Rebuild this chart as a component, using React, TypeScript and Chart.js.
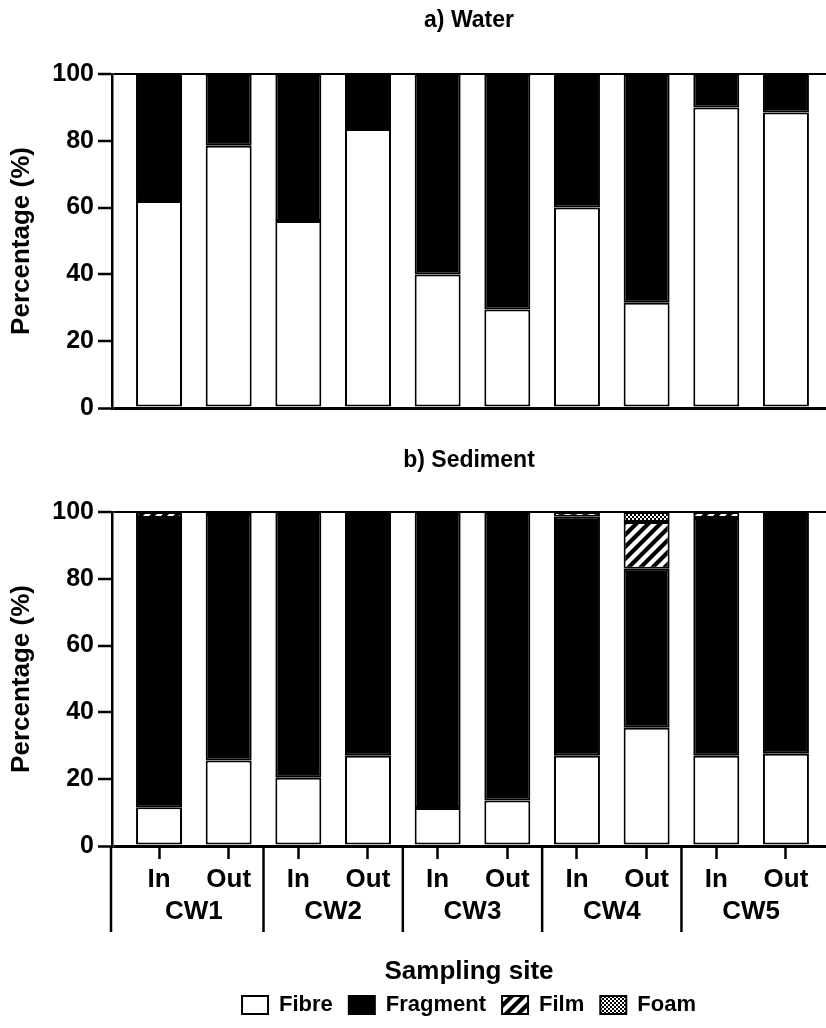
import React, { useEffect, useRef } from 'react';
import { Chart, registerables } from 'chart.js';

Chart.register(...registerables);

// ---- data ----
const sites = ['CW1', 'CW2', 'CW3', 'CW4', 'CW5'];
const positions = ['In', 'Out', 'In', 'Out', 'In', 'Out', 'In', 'Out', 'In', 'Out'];
const barIndex = [1, 2, 3, 4, 5, 6, 7, 8, 9, 10];
const yTicks = [0, 20, 40, 60, 80, 100];
const typeNames = ['Fibre', 'Fragment', 'Film', 'Foam'];

const waterFibre = [62, 78.5, 56, 83.5, 40, 29.5, 60, 31.5, 90, 88.5];
const waterFragment = [38, 21.5, 44, 16.5, 60, 70.5, 40, 68.5, 10, 11.5];
const waterFilm = [0, 0, 0, 0, 0, 0, 0, 0, 0, 0];
const waterFoam = [0, 0, 0, 0, 0, 0, 0, 0, 0, 0];

const sedFibre = [11.6, 25.6, 20.4, 27, 11.4, 13.6, 27, 35.4, 27, 27.6];
const sedFragment = [86.6, 73.8, 79.6, 73, 88.6, 86.4, 71.6, 47.6, 71.2, 72.4];
const sedFilm = [1.8, 0.6, 0, 0, 0, 0, 1.4, 14, 1.8, 0];
const sedFoam = [0, 0, 0, 0, 0, 0, 0, 3, 0, 0];

const FONT = "'Liberation Sans', Arial, Helvetica, sans-serif";

function filmPattern(): CanvasPattern | string {
  const c = document.createElement('canvas');
  c.width = 12;
  c.height = 12;
  const g = c.getContext('2d');
  if (!g) return '#888';
  g.fillStyle = '#fff';
  g.fillRect(0, 0, 12, 12);
  g.strokeStyle = '#000';
  g.lineWidth = 4.2;
  g.beginPath();
  g.moveTo(-6, 6); g.lineTo(6, -6);
  g.moveTo(-1, 13); g.lineTo(13, -1);
  g.moveTo(6, 18); g.lineTo(18, 6);
  g.stroke();
  return g.createPattern(c, 'repeat') || '#888';
}

function foamPattern(): CanvasPattern | string {
  const c = document.createElement('canvas');
  c.width = 4;
  c.height = 4;
  const g = c.getContext('2d');
  if (!g) return '#888';
  g.fillStyle = '#fff';
  g.fillRect(0, 0, 4, 4);
  g.fillStyle = '#000';
  g.fillRect(0, 0, 2, 2);
  g.fillRect(2, 2, 2, 2);
  return g.createPattern(c, 'repeat') || '#888';
}

function buildDatasets(series: number[][]) {
  const fills = ['#ffffff', '#000000', filmPattern(), foamPattern()];
  return series.map((vals, k) => ({
    label: typeNames[k],
    data: vals.map((v, i) => ({ x: barIndex[i], y: v })),
    backgroundColor: fills[k],
    borderColor: '#000',
    borderWidth: 2,
    borderSkipped: false,
    barPercentage: 0.66,
    categoryPercentage: 1,
    stack: 's',
  }));
}

const groupPlugin = {
  id: 'groupAxis',
  afterDraw(chart: any) {
    const x = chart.scales.x;
    const area = chart.chartArea;
    const ctx = chart.ctx;
    ctx.save();
    ctx.strokeStyle = '#000';
    ctx.lineWidth = 2.5;
    ctx.fillStyle = '#000';
    ctx.font = `bold 26px ${FONT}`;
    ctx.textAlign = 'center';
    ctx.textBaseline = 'middle';
    sites.forEach((s, g) => {
      const a = barIndex[2 * g];
      const b = barIndex[2 * g + 1];
      const leftVal = g === 0 ? x.min : (barIndex[2 * g - 1] + a) / 2;
      const px = x.getPixelForValue(leftVal) + (g === 0 ? -1 : 0);
      ctx.beginPath();
      ctx.moveTo(px, area.bottom);
      ctx.lineTo(px, area.bottom + 86);
      ctx.stroke();
      ctx.fillText(s, x.getPixelForValue((a + b) / 2), area.bottom + 66);
    });
    ctx.restore();
  },
};

function makeOptions(title: string, isB: boolean): any {
  return {
    responsive: false,
    animation: false,
    events: [],
    devicePixelRatio: 1,
    layout: { padding: { top: 0, left: 0, right: 0, bottom: isB ? 2 : 32 } },
    plugins: {
      tooltip: { enabled: false },
      title: {
        display: true,
        text: title,
        fullSize: false,
        color: '#000',
        font: { family: FONT, size: 23, weight: 'bold', lineHeight: 1.2 },
        padding: { top: 7, bottom: isB ? 37.4 : 39.4 },
      },
      legend: isB
        ? {
            display: true,
            position: 'bottom',
            fullSize: false,
            align: 'center',
            labels: {
              color: '#000',
              boxWidth: 26,
              boxHeight: 18,
              padding: 16,
              font: { family: FONT, size: 22, weight: 'bold' },
            },
          }
        : { display: false },
    },
    scales: {
      x: {
        type: 'linear',
        min: 0.325,
        max: 10.575,
        offset: false,
        stacked: true,
        display: isB,
        afterBuildTicks: (s: any) => {
          s.ticks = barIndex.map((v) => ({ value: v }));
        },
        afterFit: (s: any) => {
          if (isB) s.height = 132;
        },
        grid: {
          offset: false,
          drawOnChartArea: false,
          drawTicks: true,
          tickLength: 13,
          tickColor: '#000',
          tickWidth: 2.5,
        },
        border: { display: false },
        ticks: {
          autoSkip: false,
          maxRotation: 0,
          padding: 5,
          color: '#000',
          font: { family: FONT, size: 26, weight: 'bold', lineHeight: 1.2 },
          callback: (_v: any, i: number) => positions[i],
        },
        title: {
          display: isB,
          text: 'Sampling site',
          color: '#000',
          font: { family: FONT, size: 26, weight: 'bold', lineHeight: 1 },
          padding: { top: 0, bottom: -7 },
        },
      },
      y: {
        min: 0,
        max: 100,
        stacked: true,
        z: 1,
        afterBuildTicks: (s: any) => {
          s.ticks = yTicks.map((v) => ({ value: v }));
        },
        afterFit: (s: any) => {
          s.width = 112;
        },
        grid: {
          color: (c: any) => (c.tick && (c.tick.value === 0 || c.tick.value === 100) ? '#000' : 'rgba(0,0,0,0)'),
          lineWidth: (c: any) => (c.tick && c.tick.value === 0 ? 3 : 2),
          tickColor: '#000',
          tickWidth: 2.5,
          tickLength: 14,
        },
        border: { display: true, color: '#000', width: 2.5 },
        ticks: {
          padding: 4,
          color: '#000',
          font: { family: FONT, size: 25, weight: 'bold' },
        },
        title: {
          display: true,
          text: 'Percentage (%)',
          color: '#000',
          font: { family: FONT, size: 26, weight: 'bold', lineHeight: 1.2 },
          padding: { top: 6, bottom: 0 },
        },
      },
    },
  };
}

export default function App() {
  const refA = useRef<HTMLCanvasElement | null>(null);
  const refB = useRef<HTMLCanvasElement | null>(null);

  useEffect(() => {
    if (!refA.current || !refB.current) return;
    const a = new Chart(refA.current, {
      type: 'bar',
      data: { datasets: buildDatasets([waterFibre, waterFragment, waterFilm, waterFoam]) as any },
      options: makeOptions('a) Water', false),
    });
    const b = new Chart(refB.current, {
      type: 'bar',
      data: { datasets: buildDatasets([sedFibre, sedFragment, sedFilm, sedFoam]) as any },
      options: makeOptions('b) Sediment', true),
      plugins: [groupPlugin],
    });
    return () => {
      a.destroy();
      b.destroy();
    };
  }, []);

  return (
    <div style={{ position: 'absolute', left: 0, top: 0, width: 826, height: 1028, background: '#fff' }}>
      <canvas ref={refA} width={826} height={440} style={{ position: 'absolute', left: 0, top: 0 }} />
      <canvas ref={refB} width={826} height={588} style={{ position: 'absolute', left: 0, top: 440 }} />
    </div>
  );
}
